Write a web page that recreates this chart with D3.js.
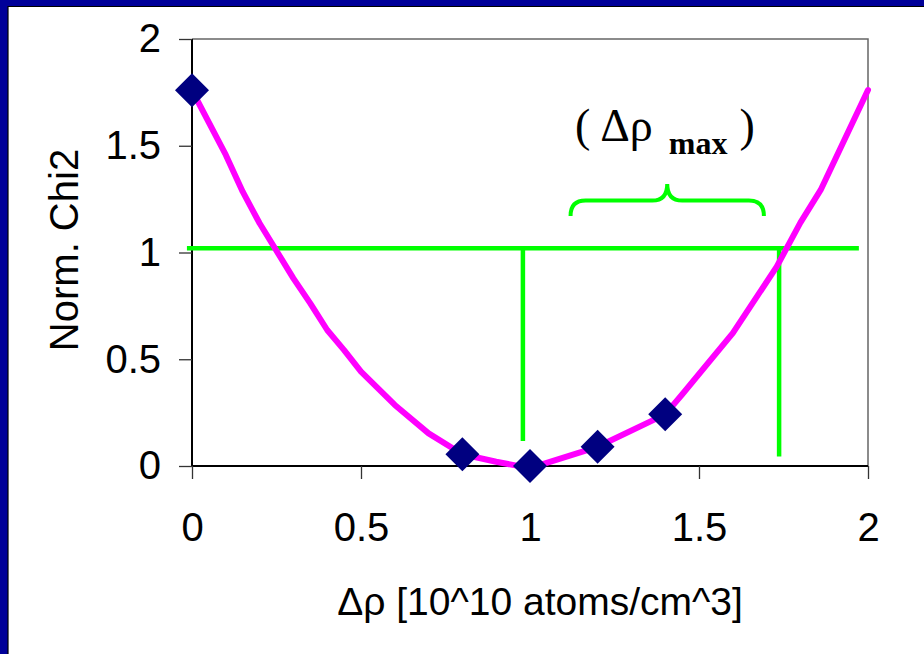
<!DOCTYPE html>
<html>
<head>
<meta charset="utf-8">
<script src="https://cdn.jsdelivr.net/npm/d3@7"></script>
<style>
  body { margin: 0; background: #fff; }
  svg { display: block; }
</style>
</head>
<body>
<div id="chart"></div>
<script>
// measured points (diamonds)
var pointX = [0, 0.8, 1.0, 1.2, 1.4];
var pointY = [1.76, 0.055, 0.0, 0.09, 0.242];

// fitted curve (magenta)
var curveX = [0, 0.1, 0.15, 0.2, 0.3, 0.35, 0.4, 0.45, 0.5, 0.6, 0.7, 0.8, 0.9, 1.0, 1.2, 1.4, 1.45, 1.6, 1.73, 1.8, 1.86, 2.0];
var curveY = [1.76, 1.457, 1.285, 1.137, 0.879, 0.762, 0.637, 0.543, 0.442, 0.286, 0.153, 0.055, 0.02, -0.01, 0.09, 0.242, 0.335, 0.622, 0.934, 1.14, 1.293, 1.761];

// green guide lines: level 1.02, crossing at 0.979 and 1.737
var levelY = 1.02;
var levelX = [-0.015, 1.973];
var dropX = [0.979, 1.737];
var dropBottom = [0.117, 0.044];

// brace over the range
var braceX = [1.12, 1.406, 1.692];
var braceY = [1.171, 1.243, 1.321];

var xTicks = [0, 0.5, 1, 1.5, 2];
var yTicks = [0, 0.5, 1, 1.5, 2];

var W = 924, H = 654;
var margin = {top: 39, right: 56, bottom: 188, left: 192},
	width = W - margin.left - margin.right,
	height = H - margin.top - margin.bottom;

var svg = d3.select("#chart")
  .append("svg")
	.attr("width", W)
	.attr("height", H);

// blue slide border (left and top)
svg.append("rect").attr("x", 0).attr("y", 0).attr("width", 8).attr("height", H).attr("fill", "#000099");
svg.append("rect").attr("x", 0).attr("y", 0).attr("width", W).attr("height", 6).attr("fill", "#000099");
svg.append("line").attr("x1", 8).attr("x2", 8).attr("y1", 6).attr("y2", H).attr("stroke", "#000").attr("stroke-width", 1.2);
svg.append("line").attr("x1", 8).attr("x2", W).attr("y1", 6.5).attr("y2", 6.5).attr("stroke", "#000").attr("stroke-width", 1.2);

var g = svg.append("g")
	.attr("transform", "translate(" + margin.left + "," + margin.top + ")");

var x = d3.scaleLinear().domain([0, 2]).range([0, width]);
var y = d3.scaleLinear().domain([0, 2]).range([height, 0]);

// frame top / right
g.append("path")
	.attr("d", "M0,0H" + width + "V" + height)
	.attr("fill", "none")
	.attr("stroke", "#666")
	.attr("stroke-width", 1.5);

// Y axis
var yAxis = g.append("g")
	.call(d3.axisLeft(y).tickValues(yTicks).tickSize(13).tickPadding(18).tickFormat(d3.format("")));
// X axis
var xAxis = g.append("g")
	.attr("transform", "translate(0," + height + ")")
	.call(d3.axisBottom(x).tickValues(xTicks).tickSize(13).tickPadding(34).tickFormat(d3.format("")));

[xAxis, yAxis].forEach(function(a) {
	a.select(".domain").attr("stroke", "#000").attr("stroke-width", 2);
	a.selectAll(".tick line").attr("stroke", "#333").attr("stroke-width", 1.3);
	a.selectAll(".tick text")
		.attr("fill", "#000")
		.style("font-family", "Arial, 'Liberation Sans', sans-serif")
		.style("font-size", "40px");
});
yAxis.select(".domain").attr("d", "M0," + height + "V0");
xAxis.select(".domain").attr("d", "M0,0H" + width);

// axis titles
svg.append("text")
	.attr("x", 540)
	.attr("y", 615)
	.attr("text-anchor", "middle")
	.style("font-family", "Arial, 'Liberation Sans', sans-serif")
	.style("font-size", "39px")
	.text("Δρ [10^10 atoms/cm^3]");

svg.append("text")
	.attr("transform", "translate(78,250) rotate(-90)")
	.attr("text-anchor", "middle")
	.style("font-family", "Arial, 'Liberation Sans', sans-serif")
	.style("font-size", "40px")
	.text("Norm. Chi2");

// green guide lines
g.append("line")
	.attr("x1", x(levelX[0])).attr("x2", x(levelX[1]))
	.attr("y1", y(levelY)).attr("y2", y(levelY))
	.attr("stroke", "#00ff00").attr("stroke-width", 4.5);
dropX.forEach(function(d, i) {
	g.append("line")
		.attr("x1", x(d)).attr("x2", x(d))
		.attr("y1", y(levelY)).attr("y2", y(dropBottom[i]))
		.attr("stroke", "#00ff00").attr("stroke-width", 4.5);
});

// brace
var r = 15;
var bx1 = x(braceX[0]), bxc = x(braceX[1]), bx2 = x(braceX[2]);
var yb = y(braceY[0]), yh = y(braceY[1]), yt = y(braceY[2]);
g.append("path")
	.attr("d", "M" + bx1 + "," + yb +
		"Q" + bx1 + "," + yh + " " + (bx1 + r) + "," + yh +
		"L" + (bxc - r) + "," + yh +
		"Q" + bxc + "," + yh + " " + bxc + "," + yt +
		"Q" + bxc + "," + yh + " " + (bxc + r) + "," + yh +
		"L" + (bx2 - r) + "," + yh +
		"Q" + bx2 + "," + yh + " " + bx2 + "," + yb)
	.attr("fill", "none")
	.attr("stroke", "#00ff00")
	.attr("stroke-width", 4);

// annotation
var ann = g.append("text")
	.attr("x", x(1.133))
	.attr("y", y(1.52))
	.style("font-family", "'Times New Roman', 'Liberation Serif', serif")
	.attr("fill", "#000");
ann.append("tspan").style("font-size", "46px").text("(");
ann.append("tspan").style("font-size", "46px").attr("dx", 10).text("Δρ");
ann.append("tspan").style("font-size", "32px").style("font-weight", "bold").attr("dx", 16).attr("dy", 13).text("max");
ann.append("tspan").style("font-size", "46px").attr("dx", 12).attr("dy", -13).text(")");

// curve
var curve = curveX.map(function(d, i) { return [d, curveY[i]]; });
g.append("path")
	.datum(curve)
	.attr("fill", "none")
	.attr("stroke", "#ff00ff")
	.attr("stroke-width", 6)
	.attr("stroke-linejoin", "round")
	.attr("stroke-linecap", "round")
	.attr("d", d3.line()
		.x(function(d) { return x(d[0]); })
		.y(function(d) { return y(d[1]); })
	);

// diamonds
g.selectAll(".pt")
	.data(pointX)
	.enter()
	.append("path")
	.attr("class", "pt")
	.attr("transform", function(d, i) { return "translate(" + x(d) + "," + y(pointY[i]) + ") rotate(45)"; })
	.attr("d", d3.symbol(d3.symbolSquare, 576))
	.attr("fill", "#000080");
</script>
</body>
</html>
